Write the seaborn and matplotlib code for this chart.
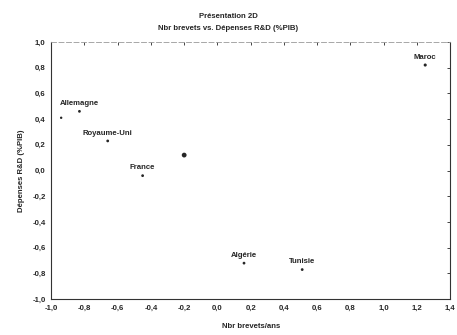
import pandas as pd
import numpy as np
import matplotlib
matplotlib.use("Agg")
import matplotlib.pyplot as plt
import seaborn as sns

# values
pays = ["Maroc", "Allemagne", "Royaume-Uni", "France", "", "", "Algérie", "Tunisie"]
brevets = [1.25, -0.83, -0.66, -0.45, -0.20, -0.94, 0.16, 0.51]
depenses = [0.82, 0.46, 0.23, -0.04, 0.12, 0.41, -0.72, -0.77]
taille = [5, 4, 4, 4, 12, 3, 4, 4]

df = pd.DataFrame({"pays": pays, "x": brevets, "y": depenses, "s": taille})

sns.set_style("white")
plt.rcParams['font.family'] = ['Liberation Sans', 'DejaVu Sans']
plt.rcParams['font.weight'] = 'bold'

fs = 5.6
ink = "#262626"

fig = plt.figure(figsize=(4.57, 3.35), dpi=100)
ax = fig.add_axes([0.112, 0.107, 0.873, 0.768])

sns.scatterplot(data=df, x="x", y="y", size="s", sizes=(3, 12), color=ink,
                edgecolor="none", legend=False, ax=ax)

for _, r in df.iterrows():
    if r["pays"]:
        ax.annotate(r["pays"], (r["x"], r["y"]), xytext=(0, 3), textcoords="offset points",
                    ha="center", va="bottom", fontsize=fs, fontweight="bold", color=ink)


def fmt(v):
    v = 0.0 if abs(v) < 1e-9 else v
    return f"{v:.1f}".replace(".", ",")


ax.set_xlim(-1.0, 1.4)
ax.set_ylim(-1.0, 1.0)
xt = np.round(np.arange(-1.0, 1.41, 0.2), 1)
yt = np.round(np.arange(-1.0, 1.01, 0.2), 1)
ax.set_xticks(xt)
ax.set_yticks(yt)
ax.set_xticklabels([fmt(v) for v in xt], fontsize=fs, fontweight="bold")
ax.set_yticklabels([fmt(v) for v in yt], fontsize=fs, fontweight="bold")
ax.tick_params(direction="in", length=2, width=0.6, top=True, right=True, pad=4, colors=ink)

for side in ["left", "bottom", "right"]:
    ax.spines[side].set_color("#333333")
    ax.spines[side].set_linewidth(0.8)
ax.spines["top"].set_color("#999999")
ax.spines["top"].set_linewidth(0.6)
ax.spines["top"].set_linestyle((0, (6, 3)))

ax.set_xlabel("Nbr brevets/ans", fontsize=fs, fontweight="bold", labelpad=8, color=ink)
ax.set_ylabel("Dépenses R&D (%PIB)", fontsize=fs, fontweight="bold", labelpad=5, color=ink)
fig.text(0.5, 0.945, "Présentation 2D", ha="center", fontsize=fs, fontweight="bold", color=ink)
fig.text(0.5, 0.910, "Nbr brevets vs. Dépenses R&D (%PIB)", ha="center", fontsize=fs,
         fontweight="bold", color=ink)

fig.savefig("out.png", dpi=100)
